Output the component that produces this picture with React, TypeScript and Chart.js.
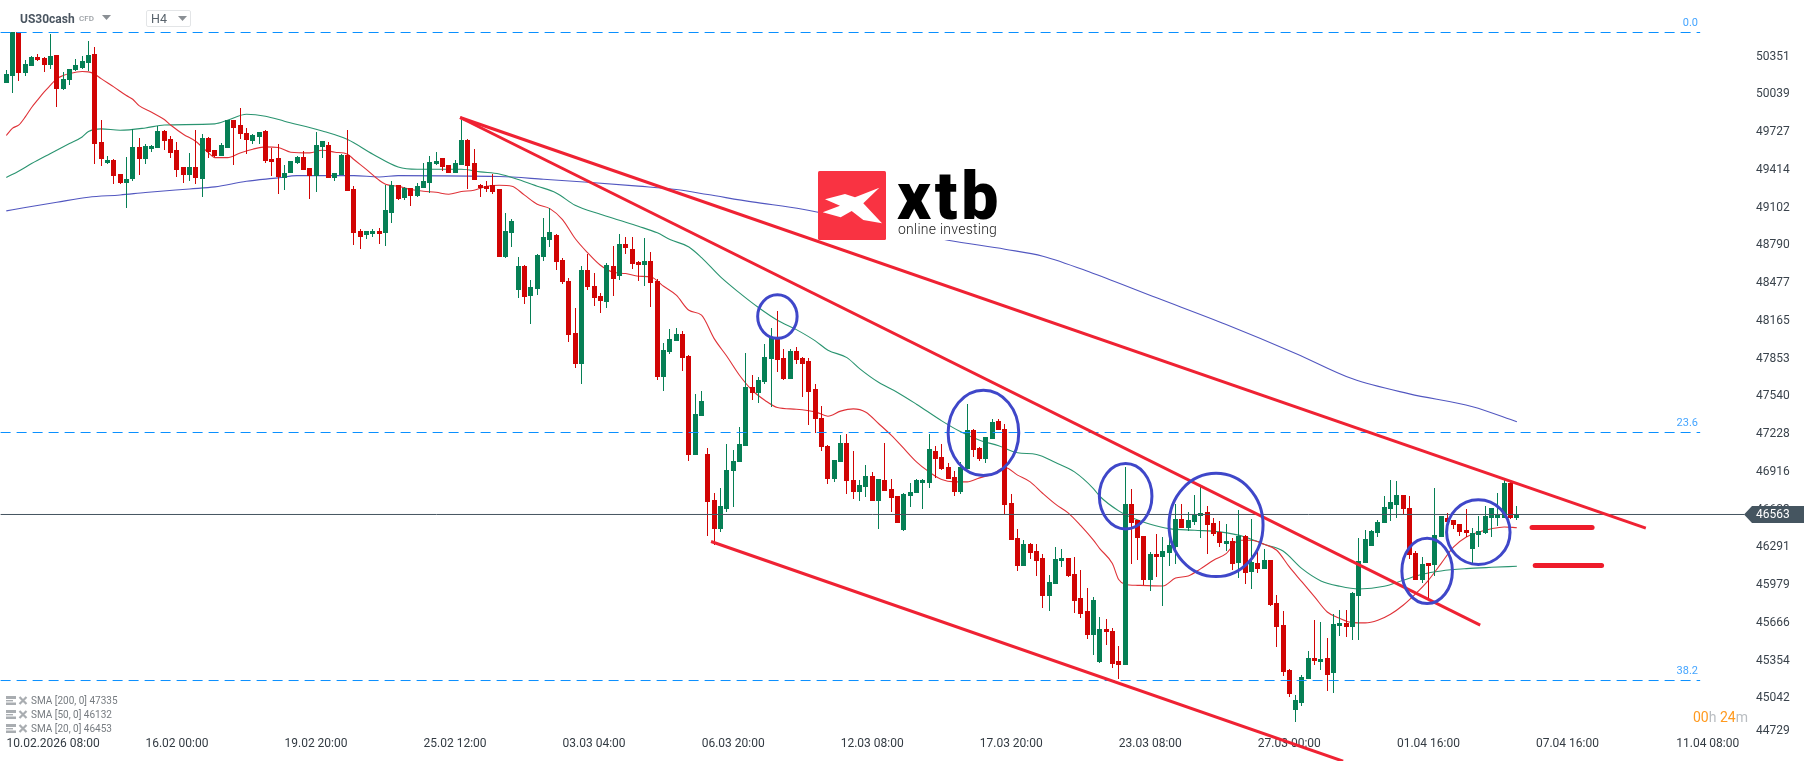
import React, { useEffect, useRef } from "react";
import { Chart, registerables } from "chart.js";

Chart.register(...registerables);

const opens = [
  50158,50217,50580,50242,50300,50372,50364,50305,50389,50108,
  50181,50264,50286,50325,50397,49664,49492,49514,49397,49322,
  49356,49622,49525,49606,49614,49758,49689,49597,49456,49389,
  49456,49356,49697,49597,49550,49614,49847,49806,49739,49672,
  49706,49756,49522,49531,49364,49406,49489,49539,49447,49383,
  49622,49639,49364,49389,49558,49272,48923,48889,48898,48923,
  48906,49073,49306,49197,49281,49214,49281,49322,49481,49531,
  49472,49406,49472,49681,49489,49306,49297,49306,49273,48709,
  48906,48431,48631,48381,48439,48706,48848,48889,48681,48506,
  48073,47815,48598,48464,48381,48331,48631,48548,48814,48773,
  48664,48639,48673,48506,47706,47915,48006,48065,47882,47060,
  47382,47066,46682,46441,46607,46924,46999,47132,47623,47573,
  47665,47856,48031,47865,47690,47923,47865,47840,47606,47365,
  47132,46857,46999,47157,46849,46749,46791,46882,46674,46849,
  46774,46716,46432,46716,46741,46824,46824,47090,47041,46957,
  46874,46749,46941,47265,47116,47024,47190,47340,47274,46657,
  46366,46132,46316,46257,46199,45883,45982,46174,46199,46066,
  45866,45758,45558,45332,45607,45590,45340,45307,46648,46515,
  46382,46015,46232,46207,46240,46290,46523,46448,46498,46548,
  46582,46490,46415,46315,46340,46157,46382,46082,46157,46107,
  46182,45823,45640,45265,44932,44990,45190,45365,45332,45365,
  45240,45632,45657,45623,45882,46157,46298,46407,46490,46607,
  46640,46723,46615,46240,46015,46157,46140,46373,46532,46515,
  46482,46432,46273,46390,46407,46532,46532,46532,46823,46534,
];
const highs = [
  50264,50580,50580,50347,50380,50397,50375,50564,50389,50247,
  50278,50358,50380,50505,50455,49847,49547,49522,49397,49539,
  49778,49697,49653,49639,49797,49764,49714,49664,49456,49572,
  49764,49731,49706,49597,49656,49853,49847,49947,49781,49731,
  49747,49764,49614,49647,49472,49506,49547,49589,49447,49747,
  49672,49664,49406,49564,49764,49297,48939,48923,48939,48948,
  49306,49339,49306,49289,49281,49322,49489,49547,49581,49531,
  49472,49514,49847,49689,49606,49314,49339,49397,49273,49073,
  49023,48706,48639,48514,48737,49031,49114,48898,48698,48531,
  48281,48631,48731,48573,48406,48656,48798,48898,48873,48873,
  48673,48864,48748,48523,47990,48106,48115,48090,47895,47565,
  47590,47116,46741,46782,47149,47099,47290,47906,47723,47706,
  47981,48115,48256,47940,47940,47956,47873,47865,47648,47465,
  47140,47016,47224,47232,47090,46849,46974,46916,46857,47157,
  46857,46716,46738,46824,46857,46857,47232,47132,47149,46991,
  46924,46999,47482,47274,47124,47207,47357,47357,47315,46732,
  46441,46349,46324,46316,46232,46057,46291,46274,46199,46207,
  46099,45949,45874,45707,45690,45615,45465,46956,46773,46515,
  46382,46248,46398,46373,46407,46654,46648,46582,46723,46793,
  46632,46532,46507,46482,46365,46598,46390,46523,46257,46273,
  46182,45890,45757,45274,45057,45224,45424,45682,45665,45532,
  45732,45765,45765,45915,46365,46432,46432,46515,46715,46848,
  46840,46723,46715,46257,46207,46157,46782,46548,46573,46515,
  46482,46607,46448,46548,46632,46615,46740,46865,46848,46632,
];
const lows = [
  50158,50075,50175,50214,50300,50339,50250,50272,49958,50103,
  50142,50258,50278,50258,49484,49467,49486,49317,49317,49117,
  49339,49389,49484,49581,49614,49597,49531,49372,49322,49339,
  49314,49209,49531,49542,49547,49614,49472,49689,49567,49647,
  49647,49492,49381,49231,49264,49406,49484,49431,49189,49247,
  49531,49364,49339,49389,49256,48806,48773,48856,48873,48814,
  48798,48989,49181,49181,49131,49206,49281,49239,49472,49422,
  49406,49406,49472,49272,49347,49206,49247,49231,48709,48700,
  48789,48364,48314,48148,48389,48673,48789,48598,48481,47998,
  47781,47648,48431,48298,48240,48281,48381,48514,48731,48606,
  48506,48464,48289,47681,47590,47898,48006,47756,47010,47060,
  47382,46382,46307,46416,46582,46624,46999,47132,47515,47490,
  47648,47459,47748,47681,47690,47820,47540,47307,47238,47090,
  46816,46832,46999,46732,46691,46674,46707,46674,46441,46757,
  46582,46491,46424,46624,46741,46607,46782,46866,46932,46857,
  46716,46732,46941,47041,47007,46991,47190,47265,46566,46349,
  46091,46132,46191,46049,45782,45758,45982,46124,46041,45741,
  45699,45524,45391,45324,45473,45282,45190,45307,46148,46182,
  45973,45923,46040,45798,46132,46148,46448,46423,46473,46365,
  46232,46382,46290,46257,46098,46032,45982,45940,46073,46107,
  45798,45457,45215,45040,44832,44965,45190,45307,45265,45090,
  45074,45548,45540,45515,45515,46157,46298,46373,46490,46507,
  46532,46565,46190,46015,45990,45848,46048,46373,46487,46440,
  46382,46376,46148,46290,46398,46373,46465,46532,46523,46515,
];
const closes = [
  50230,50580,50242,50314,50372,50347,50305,50380,50108,50189,
  50278,50305,50339,50389,49650,49525,49514,49383,49322,49356,
  49622,49525,49631,49631,49758,49675,49572,49434,49389,49456,
  49364,49697,49581,49547,49639,49847,49781,49731,49681,49722,
  49747,49506,49497,49372,49406,49506,49539,49431,49383,49639,
  49672,49364,49406,49556,49256,48906,48873,48923,48923,48898,
  49098,49306,49189,49281,49214,49297,49339,49497,49506,49456,
  49406,49489,49681,49464,49347,49281,49272,49247,48709,48923,
  49006,48631,48373,48456,48723,48873,48914,48664,48498,48056,
  47815,48598,48456,48364,48339,48639,48523,48814,48781,48648,
  48639,48673,48489,47706,47931,48023,48065,47865,47060,47399,
  47507,46666,46441,46632,46932,47007,47149,47624,47573,47681,
  47873,48031,47848,47690,47923,47848,47815,47581,47357,47124,
  46857,47016,47157,46841,46749,46807,46882,46674,46857,46757,
  46699,46491,46732,46749,46849,46849,47107,47024,46941,46857,
  46749,46957,47265,47099,47024,47207,47332,47265,46641,46349,
  46132,46316,46241,46174,45883,46000,46191,46199,46049,45841,
  45733,45558,45849,45607,45582,45315,45307,46648,46490,46365,
  46015,46232,46207,46257,46307,46523,46448,46515,46557,46573,
  46473,46398,46323,46340,46148,46382,46073,46165,46107,46182,
  45807,45623,45249,45065,45015,45207,45365,45340,45357,45224,
  45648,45657,45623,45907,46173,46357,46423,46498,46623,46665,
  46723,46607,46223,46015,46148,46132,46390,46548,46498,46473,
  46415,46407,46407,46423,46548,46615,46557,46823,46532,46563,
];

const sma20Index = [
  0,1,2,3,4,5,6,7,8,9,10,12,13,14,15,17,19,20,21,23,25,26,28,30,32,33,35,37,39,41,43,45,48,50,52,54,55,57,59,60,62,64,66,68,70,72,74,76,78,
  80,82,84,86,88,90,92,94,96,98,100,102,104,106,108,110,112,114,116,118,120,122,125,128,130,132,134,136,138,140,142,144,146,148,150,152,154,156,158,160,162,164,166,168,170,172,
  173,175,176,177,179,183,185,187,189,191,193,195,197,199,201,203,205,207,209,211,213,215,217,219,221,223,225,227,229,231,233,235,237,239,
];
const sma20Values = [
  49720,49781,49808,49875,49953,50019,50083,50139,50194,50219,50236,50253,50250,50230,50194,50125,50053,50022,49969,49914,49853,49808,49731,49670,49575,49536,49536,49575,49606,49625,49620,49581,49575,49597,49581,49564,49520,49436,49347,49314,49297,49270,49256,49247,49231,49253,49264,49297,49306,
  49298,49223,49148,49111,49020,48862,48742,48639,48581,48570,48548,48542,48464,48390,48264,48223,48028,47881,47723,47598,47515,47454,47440,47418,47382,47424,47443,47415,47321,47224,47113,47002,46918,46854,46835,46835,46868,46899,46954,46891,46835,46738,46649,46577,46470,46349,
  46279,46154,46021,45982,45973,45968,46034,46051,46112,46182,46237,46348,46348,46315,46265,46126,46001,45876,45751,45696,45662,45660,45682,45732,45807,45904,46015,46154,46293,46376,46418,46445,46459,46453,
];
const sma50Index = [
  0,2,4,7,10,12,13,15,18,22,25,33,35,38,41,44,50,54,58,62,65,72,75,78,
  81,84,87,90,94,97,100,103,105,108,110,113,116,119,122,125,128,130,133,135,138,141,
  144,148,151,154,157,160,163,166,169,172,173,176,178,181,184,188,192,196,199,202,205,208,211,214,218,221,224,227,231,235,239,
];
const sma50Values = [
  49370,49425,49486,49570,49653,49708,49753,49775,49764,49783,49808,49817,49847,49897,49881,49839,49758,49686,49564,49458,49439,49439,49417,49400,
  49353,49298,49242,49139,49064,49014,48964,48909,48853,48792,48703,48542,48409,48287,48181,48103,48009,47931,47870,47778,47664,47580,
  47482,47343,47252,47182,47135,47077,47063,46996,46918,46779,46715,46593,46537,46482,46445,46432,46418,46376,46315,46259,46112,46010,45965,45943,45965,46015,46065,46093,46112,46123,46132,
];
const sma200Index = [
  0,3,8,13,18,22,29,33,38,43,46,55,59,62,78,85,92,100,106,111,118,126,149,158,164,172,182,193,204,213,222,232,239,
];
const sma200Values = [
  49092,49120,49164,49206,49225,49245,49275,49292,49339,49367,49386,49386,49375,49386,49378,49356,49331,49298,49270,49228,49167,49106,48848,48773,48715,48571,48368,48146,47905,47693,47568,47461,47335,
];

const yTickValues = [50351,50039,49727,49414,49102,48790,48477,48165,47853,47540,47228,46916,46603,46291,45979,45666,45354,45042,44729];
// the lowest label sits higher than its level in the reference, pushed up by the time axis
const yLabelClampPrice = 44771;
const xTickIndex = [7.4,27,49,71,93,115,137,159,181,203,225,247,269.2];
const xTickLabels = [
  "10.02.2026 08:00","16.02 00:00","19.02 20:00","25.02 12:00","03.03 04:00","06.03 20:00","12.03 08:00",
  "17.03 20:00","23.03 08:00","27.03 00:00","01.04 16:00","07.04 16:00","11.04 08:00",
];

const currentPrice = 46563;
const fibLabels = ["0.0","23.6","38.2"];
const fibPrices = [50578,47246,45180];

// trend lines: [startIndex, startPrice, endIndex, endPrice]
const trendUpper = [71.8,49870,259.4,46449];
const trendMiddle = [71.8,49870,233.2,45641];
const trendLower = [111.5,46338,211.5,44508];
const levelOne = [241.4,46455,250.9,46455];
const levelTwo = [241.9,46138,252.4,46138];

const circleIndex = [122,154.6,177.1,191.4,224.8,232.9];
const circlePrice = [48212,47243,46715,46476,46093,46416];
const circleIndexRadius = [3.12,5.59,4.16,7.44,4.0,5.02];
const circlePriceRadius = [181,356,272,430,272,269];

const legendRows = ["SMA [200, 0] 47335","SMA [50, 0] 46132","SMA [20, 0] 46453"];

// values above were read with 8.33 points per pixel; the axis labels give 8.275
const READ_SCALE = 8.275 / 8.33;
const cal = (p: number) => currentPrice + (p - currentPrice) * READ_SCALE;

const GREEN = "#067f55";
const RED = "#d10404";
const FONT = "Roboto";

const pairs = (xs: number[], ys: number[]) => xs.map((x, i) => ({ x, y: cal(ys[i]) }));
const seg = (s: number[]) => [{ x: s[0], y: cal(s[1]) }, { x: s[2], y: cal(s[3]) }];

const pixelAlign = {
  id: "pixelAlign",
  beforeDatasetsDraw(chart: any) {
    chart.getSortedVisibleDatasetMetas().forEach((m: any) => {
      if (m.type !== "bar") return;
      m.data.forEach((el: any) => {
        el.x = Math.floor(el.x) + 0.5;
        el.y = Math.round(el.y);
        el.base = Math.round(el.base);
        if (el.y === el.base) el.base += 1;
      });
    });
  },
};

const overlays = {
  id: "overlays",
  afterDatasetsDraw(chart: any) {
    const { ctx, scales } = chart;
    const xs = scales.x, ys = scales.y;
    ctx.save();
    ctx.strokeStyle = "#3f47c9";
    ctx.lineWidth = 3;
    circleIndex.forEach((c, i) => {
      const cx = xs.getPixelForValue(c);
      const cy = ys.getPixelForValue(cal(circlePrice[i]));
      const rx = xs.getPixelForValue(c + circleIndexRadius[i]) - cx;
      const ry = cy - ys.getPixelForValue(cal(circlePrice[i] + circlePriceRadius[i]));
      ctx.beginPath();
      ctx.ellipse(cx, cy, rx, ry, 0, 0, Math.PI * 2);
      ctx.stroke();
    });
    ctx.font = `11px ${FONT}`;
    ctx.fillStyle = "#45a5ff";
    ctx.textAlign = "right";
    ctx.textBaseline = "middle";
    fibLabels.forEach((t, i) => {
      ctx.fillText(t, 1698, ys.getPixelForValue(cal(fibPrices[i])) - 9);
    });
    ctx.restore();
  },
  afterDraw(chart: any) {
    const { ctx, scales } = chart;
    const y = scales.y.getPixelForValue(currentPrice);
    ctx.save();
    ctx.fillStyle = "#455560";
    ctx.beginPath();
    ctx.moveTo(1744, y);
    ctx.lineTo(1752, y - 8.5);
    ctx.lineTo(1804, y - 8.5);
    ctx.lineTo(1804, y + 8.5);
    ctx.lineTo(1752, y + 8.5);
    ctx.closePath();
    ctx.fill();
    ctx.fillStyle = "#ffffff";
    ctx.font = `12px ${FONT}`;
    ctx.textAlign = "left";
    ctx.textBaseline = "middle";
    ctx.fillText(String(currentPrice), 1756, y + 1);
    ctx.restore();
  },
};

const Tri = ({ x, y }: { x: number; y: number }) => (
  <svg style={{ position: "absolute", left: x, top: y }} width="9" height="5">
    <polygon points="0,0 9,0 4.5,5" fill="#8a8f94" />
  </svg>
);

const abs = (left: number, top: number, extra: any = {}): any => ({
  position: "absolute", left, top, whiteSpace: "nowrap", fontFamily: FONT, lineHeight: 1, ...extra,
});

export default function App() {
  const ref = useRef<HTMLCanvasElement | null>(null);
  useEffect(() => {
    document.body.style.margin = "0";
    document.body.style.background = "#ffffff";
    const candles = opens.map((o, i) => ({ o: cal(o), c: cal(closes[i]), h: cal(highs[i]), l: cal(lows[i]), i }));
    const colors = candles.map((k) => (k.c >= k.o ? GREEN : RED));
    const line = (data: any[], color: string, width: number, order: number, extra: any = {}) => ({
      type: "line", data, borderColor: color, borderWidth: width, pointRadius: 0, order, clip: false, ...extra,
    });
    const hline = (p: number, toIndex: number, color: string, dash: number[]) =>
      line([{ x: -0.9, y: p }, { x: toIndex, y: p }], color, 1, 5, { borderDash: dash });
    const chart = new Chart(ref.current as HTMLCanvasElement, {
      type: "bar",
      data: {
        datasets: [
          line(pairs(sma200Index, sma200Values), "#5257c0", 1.1, 22, { cubicInterpolationMode: "monotone" }),
          line(pairs(sma50Index, sma50Values), "#2a9470", 1.1, 21, { cubicInterpolationMode: "monotone" }),
          line(pairs(sma20Index, sma20Values), "#df3238", 1.1, 20, { cubicInterpolationMode: "monotone" }),
          { type: "bar", data: candles.map((k) => ({ x: k.i, y: [k.l, k.h] })), backgroundColor: colors, barThickness: 1, grouped: false, order: 11, inflateAmount: 0 },
          { type: "bar", data: candles.map((k) => ({ x: k.i, y: [k.o, k.c] })), backgroundColor: colors, barThickness: 5, grouped: false, order: 10, inflateAmount: 0 },
          ...fibPrices.map((p) => hline(cal(p), 268, "#0a90ff", [10, 6])),
          hline(currentPrice, 275, "#455560", []),
          line(seg(trendUpper), "#ef2233", 3, 2),
          line(seg(trendMiddle), "#ef2233", 3, 2),
          line(seg(trendLower), "#ef2233", 3, 2),
          line(seg(levelOne), "#ee1c2b", 5, 2, { borderCapStyle: "round" }),
          line(seg(levelTwo), "#ee1c2b", 5, 2, { borderCapStyle: "round" }),
        ] as any,
      },
      options: {
        responsive: false,
        animation: false,
        events: [],
        layout: { padding: 0 },
        plugins: { legend: { display: false }, tooltip: { enabled: false } },
        scales: {
          x: {
            type: "linear",
            offset: false,
            min: -0.997,
            max: 276.2,
            grid: { display: false, drawTicks: false },
            border: { display: false },
            afterFit: (s: any) => { s.height = 24; s.paddingLeft = 0; s.paddingRight = 0; },
            afterBuildTicks: (s: any) => { s.ticks = xTickIndex.map((value) => ({ value })); },
            ticks: {
              autoSkip: false,
              maxRotation: 0,
              minRotation: 0,
              padding: 0,
              color: "#333b43",
              font: { family: FONT, size: 12 },
              callback: (v: any) => xTickLabels[xTickIndex.indexOf(v)],
            },
          },
          y: {
            type: "linear",
            position: "right",
            min: 44721.8,
            max: 50820.5,
            grid: { display: false, drawTicks: false },
            border: { display: false },
            afterFit: (s: any) => { s.width = 64; s.paddingTop = 0; s.paddingBottom = 0; },
            afterBuildTicks: (s: any) => {
              s.ticks = yTickValues.map((value) => ({ value: Math.max(value, yLabelClampPrice) }));
            },
            ticks: {
              autoSkip: false,
              padding: 4,
              color: "#3a434c",
              font: { family: FONT, size: 12 },
              callback: (_v: any, i: number) => String(yTickValues[i]),
            },
          },
        },
      } as any,
      plugins: [pixelAlign, overlays],
    });
    return () => chart.destroy();
  }, []);

  return (
    <div style={{ position: "relative", width: 1816, height: 761, overflow: "hidden", background: "#fff" }}>
      <canvas ref={ref} width={1816} height={761} style={{ position: "absolute", left: 0, top: 0, display: "block" }} />
      <div style={abs(20, 13, { fontSize: 12, fontWeight: 700, color: "#4a5560" })}>US30cash</div>
      <div style={abs(79, 15, { fontSize: 8, color: "#9a9fa4", fontWeight: 500 })}>CFD</div>
      <Tri x={102} y={15} />
      <div style={{ position: "absolute", left: 146, top: 10, width: 43, height: 15, border: "1px solid #e3e5e7", borderRadius: 2 }} />
      <div style={abs(151, 13, { fontSize: 12.5, color: "#59636c" })}>H4</div>
      <Tri x={178} y={16} />

      <div style={{ position: "absolute", left: 818, top: 171, width: 182, height: 69, background: "#fff" }}>
        <svg width="68" height="69" style={{ position: "absolute", left: 0, top: 0 }}>
          <rect width="68" height="69" rx="1.5" fill="#f93342" />
          <polygon points="7,28.3 27,23 37,26.3 61.3,16.7 45.3,32.3 64,52.3 45.3,49 33.7,40 22.7,46.3 4.7,41.3 22,34.7" fill="#fff" />
        </svg>
        <div style={abs(79, 0, { fontSize: 66, fontWeight: 900, color: "#000", letterSpacing: 3.8, lineHeight: "52px" })}>xtb</div>
        <div style={abs(80, 51, { fontSize: 14, fontWeight: 300, color: "#222", letterSpacing: 0.25 })}>online investing</div>
      </div>

      {legendRows.map((t, i) => (
        <div key={t}>
          <svg style={{ position: "absolute", left: 6, top: 696 + i * 14 }} width="22" height="9">
            <rect x="0" y="0" width="10" height="3" fill="#a9adb1" />
            <rect x="0" y="4" width="7" height="1.4" fill="#a9adb1" />
            <rect x="0" y="6.5" width="10" height="2.5" fill="#a9adb1" />
            <path d="M13.5 1 L20.5 8 M20.5 1 L13.5 8" stroke="#a9adb1" strokeWidth="2.2" />
          </svg>
          <div style={abs(31, 696 + i * 14, { fontSize: 10, color: "#777c81" })}>{t}</div>
        </div>
      ))}

      <div style={abs(1693, 710, { fontSize: 14, color: "#b9bdc1" })}>
        <span style={{ color: "#ff9a1f" }}>00</span>h <span style={{ color: "#ff9a1f" }}>24</span>m
      </div>
    </div>
  );
}
